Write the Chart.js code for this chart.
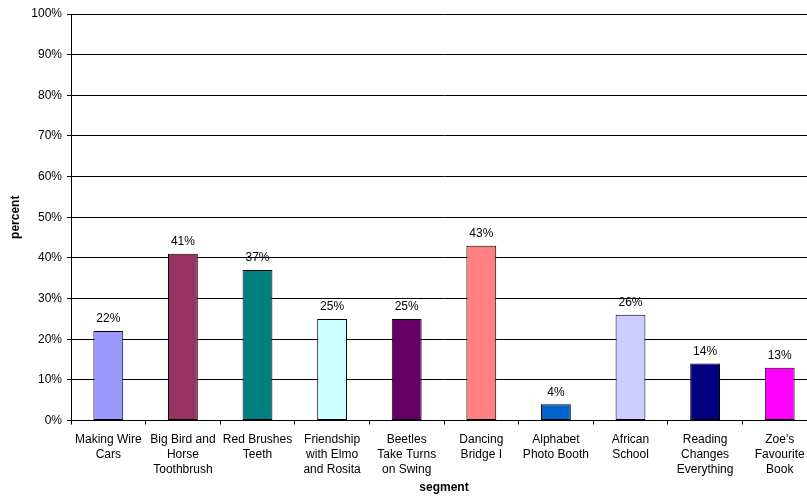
<!DOCTYPE html>
<html>
<head>
<meta charset="utf-8">
<script src="https://cdn.jsdelivr.net/npm/chart.js@4/dist/chart.umd.min.js"></script>
<style>
  html, body { margin: 0; padding: 0; background: #fff; overflow: hidden; }
  #wrap { width: 817px; height: 496px; }
</style>
</head>
<body>
<div id="wrap"><canvas id="c" width="817" height="496"></canvas></div>
<script>
// Segment names (multi-line labels as drawn under the axis)
const categories = [
  ['Making Wire', 'Cars'],
  ['Big Bird and', 'Horse', 'Toothbrush'],
  ['Red Brushes', 'Teeth'],
  ['Friendship', 'with Elmo', 'and Rosita'],
  ['Beetles', 'Take Turns', 'on Swing'],
  ['Dancing', 'Bridge I'],
  ['Alphabet', 'Photo Booth'],
  ['African', 'School'],
  ['Reading', 'Changes', 'Everything'],
  ["Zoe's", 'Favourite', 'Book']
];
// Percent of viewers per segment
const percentValues = [22, 41, 37, 25, 25, 43, 4, 26, 14, 13];
// One fill per bar
const barColors = ['#9999FF', '#993366', '#008080', '#CCFFFF', '#660066',
                   '#FF8080', '#0066CC', '#CCCCFF', '#000080', '#FF00FF'];
// Value axis ticks
const yTicks = [0, 10, 20, 30, 40, 50, 60, 70, 80, 90, 100];

const FONT = 'Liberation Sans, Arial, sans-serif';

// Writes each bar's value just above it
const valueLabels = {
  id: 'valueLabels',
  afterDatasetsDraw(chart) {
    const ctx = chart.ctx;
    const meta = chart.getDatasetMeta(0);
    ctx.save();
    ctx.font = '12px ' + FONT;
    ctx.fillStyle = '#000';
    ctx.textAlign = 'center';
    ctx.textBaseline = 'middle';
    meta.data.forEach((bar, i) => {
      ctx.fillText(percentValues[i] + '%', bar.x, bar.y - 12);
    });
    ctx.restore();
  }
};

new Chart(document.getElementById('c'), {
  type: 'bar',
  data: {
    labels: categories,
    datasets: [{
      data: percentValues,
      backgroundColor: barColors,
      borderColor: '#000',
      borderWidth: 1,
      borderSkipped: false,
      barPercentage: 0.4,
      categoryPercentage: 1
    }]
  },
  options: {
    responsive: false,
    animation: false,
    events: [],
    layout: { padding: { top: 14, right: 0, bottom: 0, left: 0 } },
    plugins: {
      legend: { display: false },
      tooltip: { enabled: false }
    },
    scales: {
      x: {
        offset: true,
        grid: {
          offset: true,
          drawOnChartArea: false,
          drawTicks: true,
          tickLength: 4,
          color: '#000',
          lineWidth: 1
        },
        border: { display: true, color: '#000', width: 1 },
        ticks: {
          color: '#000',
          font: { family: FONT, size: 12, lineHeight: 1.25 },
          padding: 8,
          maxRotation: 0,
          minRotation: 0,
          autoSkip: false
        },
        title: {
          display: true,
          text: 'segment',
          color: '#000',
          font: { family: FONT, size: 12, weight: 'bold' },
          padding: { top: 0, bottom: 1 }
        },
        afterFit(scale) { scale.height = 75.5; }
      },
      y: {
        min: 0,
        max: 100,
        afterBuildTicks(scale) { scale.ticks = yTicks.map(v => ({ value: v })); },
        grid: {
          color: '#000',
          lineWidth: 1,
          drawTicks: true,
          tickLength: 4
        },
        border: { display: true, color: '#000', width: 1 },
        ticks: {
          color: '#000',
          font: { family: FONT, size: 12 },
          padding: 5,
          callback: v => v + '%'
        },
        title: {
          display: true,
          text: 'percent',
          color: '#000',
          font: { family: FONT, size: 12, weight: 'bold' },
          padding: { top: 8, bottom: 0 }
        },
        afterFit(scale) { scale.width = 71; }
      }
    }
  },
  plugins: [valueLabels]
});
</script>
</body>
</html>
